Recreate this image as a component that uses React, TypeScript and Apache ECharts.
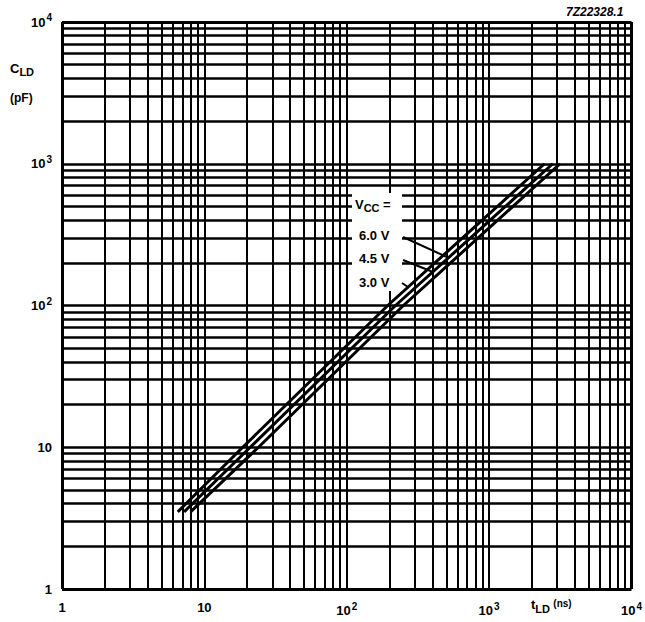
import React, { useEffect, useRef } from 'react';
import * as echarts from 'echarts';

// tick labels (exponents of 10) for both axes
const DECADES = [1, 10, 100, 1000, 10000];
const MINOR_STEPS = [2, 3, 4, 5, 6, 7, 8, 9];

// series: [tLD (ns), CLD (pF)]
const VCC_LABELS = ['3.0 V', '4.5 V', '6.0 V'];
const V30 = [[6.5, 3.5], [18.6, 10], [194, 100], [2450, 1000]];
const V45 = [[7.2, 3.5], [21, 10], [220, 100], [2800, 1000]];
const V60 = [[8.0, 3.5], [24, 10], [250, 100], [3150, 1000]];

const FONT = '"Liberation Sans", Arial, Helvetica, sans-serif';

function gridValues(): number[] {
  const vals: number[] = [];
  for (let i = 0; i < DECADES.length; i++) {
    vals.push(DECADES[i]);
    if (i < DECADES.length - 1) {
      for (const m of MINOR_STEPS) vals.push(DECADES[i] * m);
    }
  }
  return vals;
}

function labelFmt(v: number): string {
  const e = Math.round(Math.log10(v));
  if (e === 0) return '{b|1}';
  if (e === 1) return '{b|10}';
  return `{b|10}{s|${e}}`;
}

const labelRich = {
  b: { fontSize: 13, fontWeight: 'bold', color: '#000', fontFamily: FONT },
  s: { fontSize: 10, fontWeight: 'bold', color: '#000', fontFamily: FONT, padding: [0, 0, 9, 1] },
};

export default function App() {
  const ref = useRef<HTMLDivElement>(null);
  useEffect(() => {
    if (!ref.current) return;
    const chart = echarts.init(ref.current, undefined, { renderer: 'svg' });
    const gv = gridValues();
    const vLines = gv.map((v) => ({
      xAxis: v,
      lineStyle: { color: '#000', width: v === 1 || v === 10000 ? 3 : 2, type: 'solid' },
    }));
    const hLines = gv.map((v) => ({
      yAxis: v,
      lineStyle: { color: '#000', width: v === 1 || v === 10000 ? 3 : 2.5, type: 'solid' },
    }));
    const lineSeries = (name: string, data: number[][]) => ({
      name,
      type: 'line',
      data,
      showSymbol: false,
      symbol: 'none',
      z: 5,
      lineStyle: { color: '#000', width: 3 },
      silent: true,
    });
    chart.setOption({
      animation: false,
      backgroundColor: '#fff',
      grid: { left: 62, right: 13, top: 22, bottom: 33, containLabel: false },
      xAxis: {
        type: 'log',
        logBase: 10,
        min: 1,
        max: 10000,
        splitNumber: 4,
        axisLine: { show: false },
        axisTick: { show: false },
        splitLine: { show: false },
        axisLabel: { formatter: labelFmt, rich: labelRich, margin: 12, showMaxLabel: true, showMinLabel: true },
      },
      yAxis: {
        type: 'log',
        logBase: 10,
        min: 1,
        max: 10000,
        splitNumber: 4,
        axisLine: { show: false },
        axisTick: { show: false },
        splitLine: { show: false },
        axisLabel: { formatter: labelFmt, rich: labelRich, margin: 10, showMaxLabel: true, showMinLabel: true },
      },
      series: [
        {
          type: 'line',
          data: [[1, 1]],
          showSymbol: false,
          symbol: 'none',
          lineStyle: { width: 0 },
          z: 1,
          silent: true,
          markLine: {
            silent: true,
            symbol: ['none', 'none'],
            label: { show: false },
            emphasis: { disabled: true },
            data: [...vLines, ...hLines],
          },
        },
        lineSeries(VCC_LABELS[0], V30),
        lineSeries(VCC_LABELS[1], V45),
        lineSeries(VCC_LABELS[2], V60),
      ],
      graphic: [
        {
          type: 'text',
          left: 566,
          top: 6,
          style: { text: '7Z22328.1', font: `italic bold 12px ${FONT}`, fill: '#000' },
        },
        {
          type: 'text',
          left: 10,
          top: 62,
          style: {
            text: '{c|C}{d|LD}',
            rich: {
              c: { fontSize: 13, fontWeight: 'bold', fontFamily: FONT, fill: '#000' },
              d: { fontSize: 11, fontWeight: 'bold', fontFamily: FONT, fill: '#000', padding: [7, 0, 0, 0] },
            },
          },
        },
        {
          type: 'text',
          left: 10,
          top: 92,
          style: { text: '(pF)', font: `bold 12px ${FONT}`, fill: '#000' },
        },
        {
          type: 'text',
          left: 531,
          top: 598,
          style: {
            text: '{c|t}{d|LD} {n|(ns)}',
            rich: {
              c: { fontSize: 13, fontWeight: 'bold', fontFamily: FONT, fill: '#000' },
              d: { fontSize: 11, fontWeight: 'bold', fontFamily: FONT, fill: '#000', padding: [8, 0, 0, 0] },
              n: { fontSize: 10, fontWeight: 'bold', fontFamily: FONT, fill: '#000', padding: [0, 0, 3, 0] },
            },
          },
        },
        // annotation box covering grid
        {
          type: 'rect',
          shape: { x: 352, y: 193, width: 50, height: 98 },
          style: { fill: '#fff' },
          z: 10,
        },
        {
          type: 'text',
          left: 355,
          top: 198,
          z: 11,
          style: {
            text: '{c|V}{d|CC} {c|=}',
            rich: {
              c: { fontSize: 13, fontWeight: 'bold', fontFamily: FONT, fill: '#000' },
              d: { fontSize: 11, fontWeight: 'bold', fontFamily: FONT, fill: '#000', padding: [7, 0, 0, 0] },
            },
          },
        },
        {
          type: 'text',
          left: 359,
          top: 229,
          z: 11,
          style: { text: VCC_LABELS[2], font: `bold 13px ${FONT}`, fill: '#000' },
        },
        {
          type: 'text',
          left: 359,
          top: 252,
          z: 11,
          style: { text: VCC_LABELS[1], font: `bold 13px ${FONT}`, fill: '#000' },
        },
        {
          type: 'text',
          left: 359,
          top: 276,
          z: 11,
          style: { text: VCC_LABELS[0], font: `bold 13px ${FONT}`, fill: '#000' },
        },
        {
          type: 'line',
          z: 11,
          shape: { x1: 403, y1: 237, x2: 449, y2: 258 },
          style: { stroke: '#000', lineWidth: 2 },
        },
        {
          type: 'line',
          z: 11,
          shape: { x1: 403, y1: 260, x2: 433, y2: 272 },
          style: { stroke: '#000', lineWidth: 2 },
        },
        {
          type: 'line',
          z: 11,
          shape: { x1: 402, y1: 283, x2: 408, y2: 287 },
          style: { stroke: '#000', lineWidth: 2 },
        },
      ],
    });
    return () => chart.dispose();
  }, []);
  return (
    <div
      ref={ref}
      style={{ position: 'fixed', left: 0, top: 0, width: 645, height: 622, background: '#fff' }}
    />
  );
}
